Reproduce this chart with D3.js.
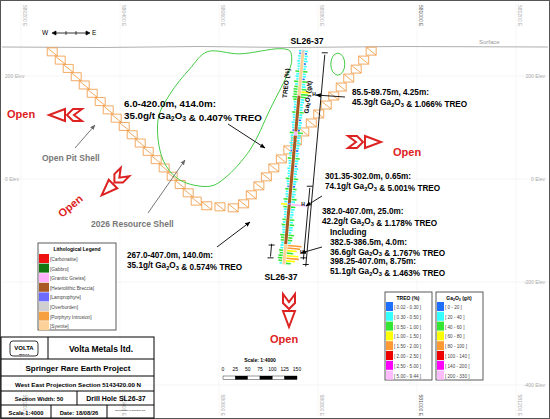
<!DOCTYPE html>
<html><head><meta charset="utf-8">
<script src="https://cdn.jsdelivr.net/npm/d3@7"></script>
<style>body{margin:0;background:#fff}text{font-family:"Liberation Sans",Arial,sans-serif}</style>
</head><body><svg id="c" width="550" height="419"></svg>
<script>
// ---------- data ----------
const eastingTicks = [580200, 580400, 580600, 580800, 581000, 581200];
const elevTicks = [200, 0, -200, -400];
const collar = {e: 580770, z: 251};
const holeEnd = {e: 580731, z: -166};
const holeLength = 420;
const depthFrom = d3.range(0, 420, 5);
const treoVals = [0.35,0.28,0.40,0.32,0.45,0.25,0.38,0.30,0.55,0.35,0.42,0.28,0.60,0.40,0.48,0.62,1.07,0.90,0.70,0.45,0.45,0.30,0.40,0.32,0.52,0.38,0.38,0.29,0.44,0.36,0.36,0.26,0.65,0.42,0.40,0.31,0.48,0.36,0.35,0.28,0.42,0.33,0.55,0.40,0.38,0.27,0.46,0.34,0.40,0.30,0.58,0.42,0.36,0.28,0.50,0.38,0.44,0.32,0.62,0.45,5.00,0.55,0.48,0.36,0.40,0.30,0.55,0.42,0.60,0.44,0.45,0.33,0.70,0.52,0.52,0.40,1.77,1.60,1.20,0.80,1.46,1.55,1.10,0.60];
const gaVals = [25,18,30,22,35,26,28,20,45,32,38,28,50,36,42,48,45,44,55,40,32,24,30,22,40,30,28,20,36,28,26,18,48,34,30,22,38,28,25,18,34,26,44,32,28,20,36,28,30,22,46,34,26,18,40,30,34,26,50,38,74,44,36,28,30,22,42,32,46,34,34,26,52,40,40,30,37,36,48,40,51,55,44,30];
const lithIntervals = [[0,6,"Overburden"],[6,90,"Syenite"],[90,160,"Heterolithic Breccia"],[160,168,"Granitic Gneiss"],[168,300,"Heterolithic Breccia"],[300,303,"Lamprophyre"],[303,380,"Heterolithic Breccia"],[380,420,"Syenite"]];
const lithNames = ["Carbonatite","Gabbro","Granitic Gneiss","Heterolithic Breccia","Lamprophyre","Overburden","Porphyry Intrusion","Syenite"];
const lithColors = ["#ee1111","#117711","#ffb3ff","#a85a22","#6b6bff","#cfcfcf","#f7a040","#fcd29a"];
const classColors = ["#1f6fff","#33ffff","#33e633","#ffff00","#ff9933","#ee0000","#ff00ff","#ffbbff"];
const treoBreaks = [0.30,0.50,1.00,1.50,2.00,2.50,5.00];
const treoLabels = ["[ 0.02 - 0.30 ]","[ 0.30 - 0.50 ]","[ 0.50 - 1.00 ]","[ 1.00 - 1.50 ]","[ 1.50 - 2.00 ]","[ 2.00 - 2.50 ]","[ 2.50 - 5.00 ]","[ 5.00 - 9.44 ]"];
const gaBreaks = [20,40,60,80,100,140,200];
const gaLabels = ["[ 0 - 20 ]","[ 20 - 40 ]","[ 40 - 60 ]","[ 60 - 80 ]","[ 80 - 100 ]","[ 100 - 140 ]","[ 140 - 200 ]","[ 200 - 330 ]"];
const pitShell = [[580255,255],[580562,-51],[580642,-57],[580673,-22],[580915,257]];
const resourceShell = [[580576,247],[580642,243],[580723,253],[580743,249],[580747,233],[580743,214],[580703,135],[580663,57],[580612,2],[580582,-14],[580521,-2],[580487,37],[580477,116],[580501,165],[580541,214]];
const scaleTicks = [0,25,50,75,100,125,150];

// ---------- scales ----------
const x = d3.scaleLinear().domain([580400,581000]).range([120,417]);
const y = d3.scaleLinear().domain([200,0]).range([76,179]);
const svg = d3.select("#c");
svg.append("rect").attr("x",0.5).attr("y",0.5).attr("width",549).attr("height",418).attr("fill","#fff").attr("stroke","#555");

elevTicks.forEach(v=>{
  svg.append("line").attr("x1",2).attr("x2",548).attr("y1",y(v)).attr("y2",y(v)).attr("stroke","#eee").attr("stroke-width",0.6);
  const lbl = v+" Elev";
  if(v>=0) svg.append("text").attr("x",5).attr("y",y(v)+2).attr("font-size",5).attr("fill","#aaa").text(lbl);
  svg.append("text").attr("x",545).attr("y",y(v)+2).attr("text-anchor","end").attr("font-size",5).attr("fill","#aaa").text(lbl);
});
eastingTicks.forEach(v=>{
  svg.append("line").attr("x1",x(v)).attr("x2",x(v)).attr("y1",3).attr("y2",416).attr("stroke","#f2f2f2").attr("stroke-width",0.6);
  [[5,"start"],[416,"end"]].forEach(([yy,a])=>{
    svg.append("text").attr("transform",`translate(${x(v)+2},${yy}) rotate(90)`).attr("text-anchor",a)
      .attr("font-size",5).attr("fill",v===581000?"#555":"#aaa").text(v+" E");
  });
});
svg.append("path").attr("d","M2,47 L100,47.5 L200,46.5 L290,47.5 L400,46.5 L548,47").attr("fill","none").attr("stroke","#999").attr("stroke-width",0.8);
svg.append("text").attr("x",479).attr("y",44).attr("font-size",6).attr("fill","#999").text("Surface");
svg.append("text").attr("x",42).attr("y",35).attr("font-size",6.5).text("W");
svg.append("text").attr("x",92).attr("y",35).attr("font-size",6.5).text("E");
svg.append("line").attr("x1",54).attr("x2",88).attr("y1",33).attr("y2",33).attr("stroke","#000").attr("stroke-width",0.8);
svg.append("path").attr("d","M52,33 l4,-2 v4z M90,33 l-4,-2 v4z M66,31v4 M76,31v4").attr("stroke","#000").attr("stroke-width",0.7);

const pitG = svg.append("g");
for(let i=0;i<pitShell.length-1;i++){
  const [e1,z1]=pitShell[i],[e2,z2]=pitShell[i+1];
  const p1=[x(e1),y(z1)],p2=[x(e2),y(z2)];
  const L=Math.hypot(p2[0]-p1[0],p2[1]-p1[1]);const n=Math.max(1,Math.round(L/11.5));
  for(let k=0;k<n;k++){
    const t=(k+0.5)/n;const cx=p1[0]+(p2[0]-p1[0])*t,cy=p1[1]+(p2[1]-p1[1])*t;
    pitG.append("path").attr("d",`M${cx-5},${cy-4} h10 v8 h-10 z M${cx-5},${cy-4} L${cx+5},${cy+4}`)
      .attr("fill","none").attr("stroke","#f0a050").attr("stroke-width",0.9);
  }
}
svg.append("path").attr("d",d3.line().curve(d3.curveCatmullRomClosed)(resourceShell.map(d=>[x(d[0]),y(d[1])])))
  .attr("fill","none").attr("stroke","#44cc44").attr("stroke-width",1);
svg.append("ellipse").attr("cx",x(580840)).attr("cy",y(223)).attr("rx",7).attr("ry",11).attr("fill","none").attr("stroke","#44cc44").attr("stroke-width",1);

// hole
const depthPt = d=>{const t=d/holeLength;return [x(collar.e+(holeEnd.e-collar.e)*t), y(collar.z+(holeEnd.z-collar.z)*t)];};
const hx=depthPt(holeLength)[0]-depthPt(0)[0], hy=depthPt(holeLength)[1]-depthPt(0)[1];
const hl=Math.hypot(hx,hy), nx=-hy/hl, ny=hx/hl;
const treoLen=d3.scaleLinear().domain([0,2]).range([0,16]).clamp(true);
const gaLen=d3.scaleLinear().domain([0,120]).range([0,10]).clamp(true);
const cls=(v,b)=>d3.bisectRight(b,v);
depthFrom.forEach((d,i)=>{
  const [a,b]=depthPt(d+2.5);
  const lt=treoLen(treoVals[i]), lg=gaLen(gaVals[i]);
  svg.append("line").attr("x1",a-nx*2).attr("y1",b-ny*2).attr("x2",a-nx*(2+lt)).attr("y2",b-ny*(2+lt))
    .attr("stroke",classColors[cls(treoVals[i],treoBreaks)]).attr("stroke-width",1.6);
  svg.append("line").attr("x1",a+nx*2).attr("y1",b+ny*2).attr("x2",a+nx*(2+lg)).attr("y2",b+ny*(2+lg))
    .attr("stroke",classColors[cls(gaVals[i],gaBreaks)]).attr("stroke-width",1.6);
});
lithIntervals.forEach(([f,t,n])=>{
  const p=depthPt(f),q=depthPt(t);
  svg.append("line").attr("x1",p[0]).attr("y1",p[1]).attr("x2",q[0]).attr("y2",q[1]).attr("stroke",lithColors[lithNames.indexOf(n)]).attr("stroke-width",3);
});
svg.append("text").attr("transform",`translate(${depthPt(95)[0]-12},${depthPt(95)[1]}) rotate(-84)`).attr("font-size",6.5).attr("font-weight","bold").text("TREO (%)");
svg.append("text").attr("transform",`translate(${depthPt(125)[0]+11},${depthPt(125)[1]}) rotate(-84)`).attr("font-size",6.5).attr("font-weight","bold").html("Ga<tspan font-size='4.5' dy='1'>2</tspan><tspan dy='-1'>O</tspan><tspan font-size='4.5' dy='1'>3</tspan><tspan dy='-1'> (g/t)</tspan>");

function bracket(f,t,off){
  const p=depthPt(f),q=depthPt(t);
  const g=svg.append("g").attr("stroke","#000").attr("stroke-width",0.9);
  g.append("line").attr("x1",p[0]+nx*off).attr("y1",p[1]+ny*off).attr("x2",q[0]+nx*off).attr("y2",q[1]+ny*off);
  [p,q].forEach(r=>g.append("line").attr("x1",r[0]+nx*off-3).attr("y1",r[1]).attr("x2",r[0]+nx*off+3).attr("y2",r[1]));
}
bracket(6,420,-22); bracket(267,407,-19); bracket(382,407,14);
[[87,13],[301,12],[395,15]].forEach(([d,o])=>{const p=depthPt(d);svg.append("text").attr("x",p[0]+o).attr("y",p[1]+2).attr("font-size",5).attr("font-weight","bold").text("H");});

function sub(t){return t.replace(/Ga2O3/g,"Ga<tspan font-size='0.7em' dy='1.5'>2</tspan><tspan dy='-1.5'>O</tspan><tspan font-size='0.7em' dy='1.5'>3</tspan><tspan dy='-1.5'></tspan>");}
function label(xx,yy,lines,dy,fs){lines.forEach((l,i)=>svg.append("text").attr("x",xx).attr("y",yy+i*(dy||10)).attr("font-size",fs||8.2).attr("font-weight","bold").html(sub(l)));}
label(124,107,["6.0-420.0m, 414.0m:","35.0g/t Ga2O3 & 0.407% TREO"],12,9.8);
label(352,95,["85.5-89.75m, 4.25m:","45.3g/t Ga2O3 & 1.066% TREO"]);
label(325,179,["301.35-302.0m, 0.65m:","74.1g/t Ga2O3 & 5.001% TREO"]);
label(322,214,["382.0-407.0m, 25.0m:","42.2g/t Ga2O3 & 1.178% TREO"]);
label(330,235,["Including","382.5-386.5m, 4.0m:","36.6g/t Ga2O3 & 1.767% TREO","398.25-407.0m, 8.75m:","51.1g/t Ga2O3 & 1.463% TREO"],9.8);
label(127,258,["267.0-407.0m, 140.0m:","35.1g/t Ga2O3 & 0.574% TREO"]);
svg.append("text").attr("x",307).attr("y",44).attr("text-anchor","middle").attr("font-size",8.6).attr("font-weight","bold").text("SL26-37");
svg.append("text").attr("x",281).attr("y",280).attr("text-anchor","middle").attr("font-size",8.6).attr("font-weight","bold").text("SL26-37");
svg.append("text").attr("x",42).attr("y",161).attr("font-size",8.5).attr("font-weight","bold").attr("fill","#777").text("Open Pit Shell");
svg.append("text").attr("x",91).attr("y",227).attr("font-size",8.5).attr("font-weight","bold").attr("fill","#777").text("2026 Resource Shell");
svg.append("defs").append("marker").attr("id","ah").attr("viewBox","0 0 10 10").attr("refX",9).attr("refY",5).attr("markerWidth",6).attr("markerHeight",6).attr("orient","auto")
  .append("path").attr("d","M0,1 L10,5 L0,9z").attr("fill","context-stroke");
function arrow(x1,y1,x2,y2,c){svg.append("line").attr("x1",x1).attr("y1",y1).attr("x2",x2).attr("y2",y2).attr("stroke",c||"#000").attr("stroke-width",0.9).attr("marker-end","url(#ah)");}
arrow(228,124,265,148); arrow(345,97,316,95); arrow(322,196,306,206); arrow(322,247,301,253); arrow(217,247,250,222);
arrow(75,148,95,125,"#666"); arrow(148,213,185,160,"#666");

function openArrow(tx,ty,rot){
  const g=svg.append("g").attr("transform",`translate(${tx},${ty}) rotate(${rot})`).attr("fill","#fff").attr("stroke","#dd2222").attr("stroke-width",2);
  g.append("path").attr("d","M0,-6 L8,0 L0,6 L9,6 L15,0 L9,-6 Z");
  g.append("path").attr("d","M17,-6 L33,0 L17,6 Z");
}
openArrow(82,115,180); openArrow(348,142,0); openArrow(125,172,135); openArrow(289,294,90);
function openText(xx,yy,rot){svg.append("text").attr("transform",`translate(${xx},${yy}) rotate(${rot})`).attr("font-size",11).attr("font-weight","bold").attr("fill","#dd2222").text("Open");}
openText(7,118,0); openText(393,156,0); openText(62,218,-40); openText(270,343,0);

const lg=svg.append("g").attr("transform","translate(38,243)");
lg.append("rect").attr("width",78).attr("height",87).attr("fill","#fff").attr("stroke","#333").attr("stroke-width",0.8);
lg.append("text").attr("x",39).attr("y",8).attr("text-anchor","middle").attr("font-size",5).attr("font-weight","bold").text("Lithological Legend");
lithNames.forEach((n,i)=>{lg.append("rect").attr("x",1).attr("y",11+i*9.6).attr("width",10).attr("height",9).attr("fill",lithColors[i]);
  lg.append("text").attr("x",12).attr("y",18+i*9.6).attr("font-size",4.8).attr("fill","#444").text("["+n+"]");});

function gradeLegend(tx,title,labels){
  const g=svg.append("g").attr("transform",`translate(${tx},292)`);
  g.append("rect").attr("width",47).attr("height",88).attr("fill","#fff").attr("stroke","#333").attr("stroke-width",0.8);
  g.append("text").attr("x",23).attr("y",8).attr("text-anchor","middle").attr("font-size",5).attr("font-weight","bold").html(title);
  labels.forEach((l,i)=>{g.append("rect").attr("x",1).attr("y",10+i*9.8).attr("width",7).attr("height",9).attr("fill",classColors[i]);
    g.append("text").attr("x",9).attr("y",17+i*9.8).attr("font-size",4.6).attr("fill","#444").text(l);});
}
gradeLegend(385,"TREO (%)",treoLabels);
gradeLegend(436,"Ga<tspan font-size='3.5' dy='1'>2</tspan><tspan dy='-1'>O</tspan><tspan font-size='3.5' dy='1'>3</tspan><tspan dy='-1'> (g/t)</tspan>",gaLabels);

const sb=d3.scaleLinear().domain([0,150]).range([223,297]);
svg.append("text").attr("x",260).attr("y",362).attr("text-anchor","middle").attr("font-size",5).attr("font-weight","bold").text("Scale: 1:4000");
scaleTicks.forEach((v,i)=>{svg.append("text").attr("x",sb(v)).attr("y",371).attr("text-anchor","middle").attr("font-size",5).text(v);
  if(i<scaleTicks.length-1){svg.append("rect").attr("x",sb(v)).attr("y",376).attr("width",sb(25)-sb(0)).attr("height",3.5).attr("fill",i%2?"#000":"#fff").attr("stroke","#000").attr("stroke-width",0.4);}});

const tb=svg.append("g").attr("stroke","#000").attr("stroke-width",1).attr("fill","none");
tb.append("rect").attr("x",1).attr("y",337).attr("width",153).attr("height",81);
[[1,359,154,359],[1,376,154,376],[1,391,154,391],[1,405,154,405],[48,337,48,359],[77,391,77,405],[51,405,51,418],[107,405,107,418]].forEach(a=>tb.append("line").attr("x1",a[0]).attr("y1",a[1]).attr("x2",a[2]).attr("y2",a[3]));
tb.append("rect").attr("x",10).attr("y",341).attr("width",28).attr("height",15).attr("rx",3).attr("stroke-width",0.8);
const tt=(xx,yy,s,t,w)=>svg.append("text").attr("x",xx).attr("y",yy).attr("text-anchor","middle").attr("font-size",s).attr("font-weight",w||"bold").text(t);
tt(24,350,6,"VOLTA"); tt(24,354.5,2.5,"METALS");
tt(101,352,8.5,"Volta Metals ltd.");
tt(78,371,8,"Springer Rare Earth Project");
tt(78,387,6.2,"West East Projection Section 5143420.00 N");
tt(39,401,5.8,"Section Width: 50");
tt(116,401,7,"Drill Hole SL26-37");
tt(26,415,5.8,"Scale 1:4000");
tt(79,415,5.8,"Date: 18/08/26");
tt(130,411,2,"Map Projection: NAD83 Zone 17N","normal");
</script></body></html>
